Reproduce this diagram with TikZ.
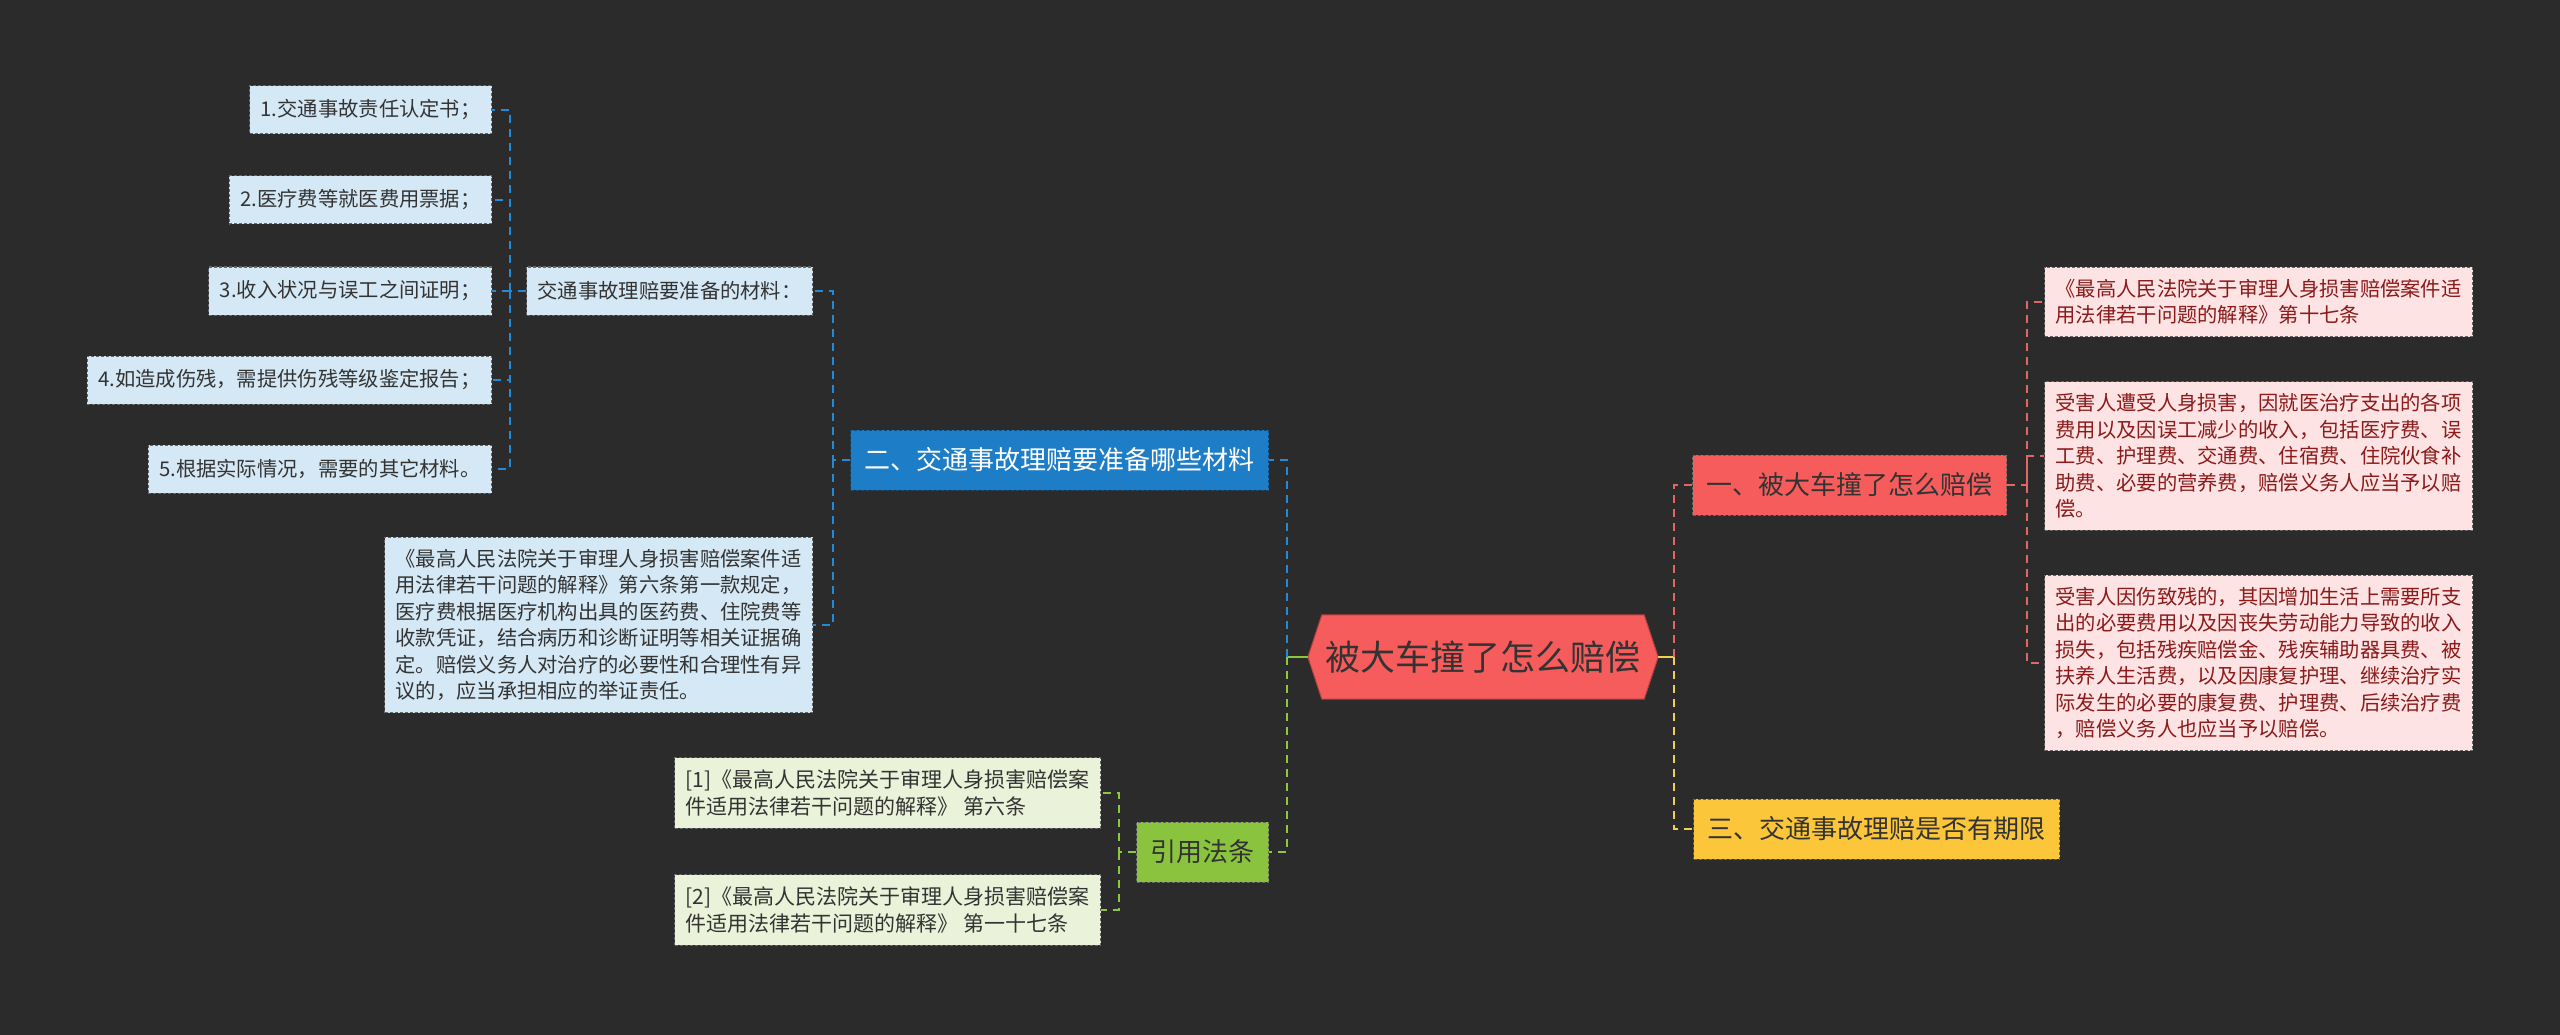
\documentclass[tikz,border=0pt]{standalone}
\usepackage{fontspec}
\setmainfont{Noto Sans CJK SC}
\usepackage{xcolor}
\usetikzlibrary{positioning,backgrounds}
\definecolor{bgdark}{HTML}{2B2B2B}
\definecolor{tblue}{HTML}{1E7DC7}
\definecolor{tgreen}{HTML}{8AC43F}
\definecolor{tred}{HTML}{F75C5C}
\definecolor{tyellow}{HTML}{FCC63A}
\definecolor{lblue}{HTML}{D5E8F5}
\definecolor{lgreen}{HTML}{EAF3D9}
\definecolor{lpink}{HTML}{FDE3E3}
\definecolor{cblue}{HTML}{2589D3}
\definecolor{cgreen}{HTML}{8DC63F}
\definecolor{cred}{HTML}{E26666}
\definecolor{cyellow}{HTML}{F3CD54}
\definecolor{txtdark}{HTML}{333333}
\definecolor{txtred}{HTML}{8B1A1A}

\begin{document}
\begin{tikzpicture}[x=1pt,y=-1pt,
  hexnode/.style={minimum width=350pt,minimum height=84pt,text=txtdark,font=\fontsize{35}{40}\selectfont},
  topic/.style={draw=black!60,dash pattern=on 3pt off 2pt,line width=1pt,inner xsep=14pt,
    minimum height=60pt,text=txtdark,font=\fontsize{26}{30}\selectfont},
  leaf/.style={draw=black!60,dash pattern=on 3pt off 2pt,line width=1pt,inner xsep=11pt,inner ysep=12pt,
    minimum height=48pt,align=left,text=txtdark,font=\fontsize{20.3}{26.5}\selectfont},
  refleaf/.style={leaf,fill=lgreen,font=\fontsize{21}{27}\selectfont},
  stem/.style={line width=2.5pt},
  link/.style={line width=2pt,dash pattern=on 8pt off 6pt}]
\begin{scope}[on background layer]
\fill[bgdark] (0,0) rectangle (2560,1035);
\end{scope}
\useasboundingbox (0,0) rectangle (2560,1035);

% root and main topics
\node[hexnode] (root) at (1483,657) {被大车撞了怎么赔偿};
\begin{scope}[on background layer]
\filldraw[fill=tred,draw=tred!70!black,line width=1pt] (root.west) -- ([xshift=14pt]root.north west)
  -- ([xshift=-14pt]root.north east) -- (root.east) -- ([xshift=-14pt]root.south east)
  -- ([xshift=14pt]root.south west) -- cycle;
\end{scope}
\node[topic,fill=tblue,text=white,draw=tblue!60!black,anchor=east] (mat) at (1269,460) {二、交通事故理赔要准备哪些材料};
\node[topic,fill=tgreen,anchor=east] (cite) at (1269,852) {引用法条};
\node[topic,fill=tred,anchor=west] (comp) at (1692,485) {一、被大车撞了怎么赔偿};
\node[topic,fill=tyellow,anchor=west] (limit) at (1693,829) {三、交通事故理赔是否有期限};

% left side leaves
\node[leaf,fill=lblue,anchor=east] (list) at (813,291) {交通事故理赔要准备的材料：};
\node[leaf,fill=lblue,anchor=east] (law6) at (813,625) {《最高人民法院关于审理人身损害赔偿案件适\\用法律若干问题的解释》第六条第一款规定，\\医疗费根据医疗机构出具的医药费、住院费等\\收款凭证，结合病历和诊断证明等相关证据确\\定。赔偿义务人对治疗的必要性和合理性有异\\议的，应当承担相应的举证责任。};
\foreach \i/\y/\t in {1/110/{1.交通事故责任认定书；},2/200/{2.医疗费等就医费用票据；},
  3/291/{3.收入状况与误工之间证明；},4/380/{4.如造成伤残，需提供伤残等级鉴定报告；},
  5/469/{5.根据实际情况，需要的其它材料。}}
  \node[leaf,fill=lblue,anchor=east] (doc\i) at (492,\y) {\t};
\node[refleaf,anchor=east] (ref1) at (1101,793) {[1]《最高人民法院关于审理人身损害赔偿案\\件适用法律若干问题的解释》 第六条};
\node[refleaf,anchor=east] (ref2) at (1101,910) {[2]《最高人民法院关于审理人身损害赔偿案\\件适用法律若干问题的解释》 第一十七条};

% right side leaves
\node[leaf,fill=lpink,text=txtred,anchor=west] (art17) at (2044,302) {《最高人民法院关于审理人身损害赔偿案件适\\用法律若干问题的解释》第十七条};
\node[leaf,fill=lpink,text=txtred,anchor=west] (injury) at (2044,456) {受害人遭受人身损害，因就医治疗支出的各项\\费用以及因误工减少的收入，包括医疗费、误\\工费、护理费、交通费、住宿费、住院伙食补\\助费、必要的营养费，赔偿义务人应当予以赔\\偿。};
\node[leaf,fill=lpink,text=txtred,anchor=west] (disab) at (2044,663) {受害人因伤致残的，其因增加生活上需要所支\\出的必要费用以及因丧失劳动能力导致的收入\\损失，包括残疾赔偿金、残疾辅助器具费、被\\扶养人生活费，以及因康复护理、继续治疗实\\际发生的必要的康复费、护理费、后续治疗费\\，赔偿义务人也应当予以赔偿。};

% connectors
\coordinate (lj) at (1287,657);
\coordinate (rj) at (1674,657);
\coordinate (mj) at (833,460);
\coordinate (dj) at (510,291);
\coordinate (cj) at (1119,852);
\coordinate (pj) at (2027,485);
\draw[stem,cgreen] (root.west) -- (lj);
\draw[stem,cyellow] (root.east) -- (rj);
\draw[link,cblue] (lj) |- (mat.east);
\draw[link,cgreen] (lj) |- (cite.east);
\draw[link,cred] (rj) |- (comp.west);
\draw[link,cyellow] (rj) |- (limit.west);
\draw[link,cblue] (mat.west) -- (mj) |- (list.east);
\draw[link,cblue] (mj) |- (law6.east);
\draw[link,cblue] (list.west) -- (dj);
\foreach \i in {1,...,5} \draw[link,cblue] (dj) |- (doc\i.east);
\draw[link,cgreen] (cite.west) -- (cj) |- (ref1.east);
\draw[link,cgreen] (cj) |- (ref2.east);
\draw[link,cred] (comp.east) -- (pj) |- (art17.west);
\draw[link,cred] (pj) |- (injury.west);
\draw[link,cred] (pj) |- (disab.west);
\end{tikzpicture}
\end{document}
